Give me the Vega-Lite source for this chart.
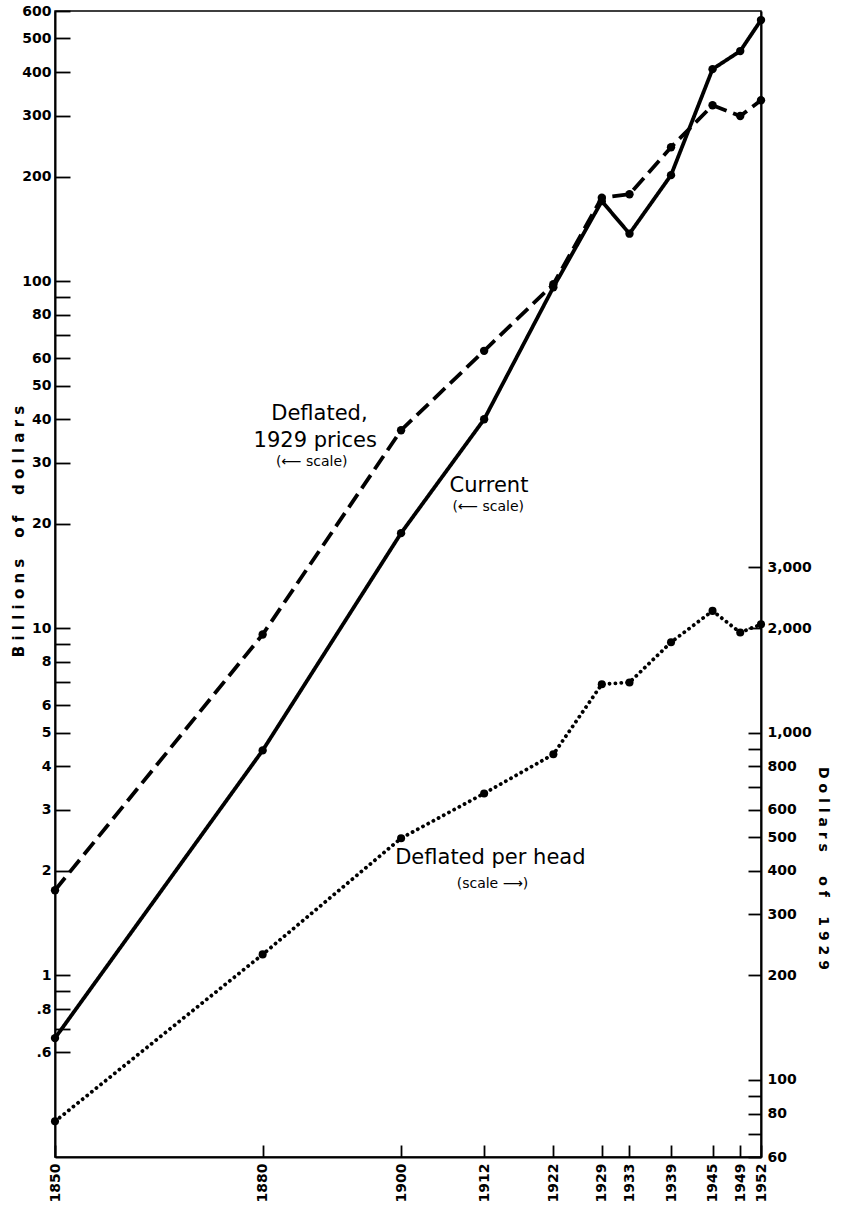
{
  "$schema": "https://vega.github.io/schema/vega-lite/v6.json",
  "width": 706,
  "height": 1146,
  "autosize": {"type": "none"},
  "padding": {"left": 55, "top": 11, "right": 82, "bottom": 48},
  "background": "white",
  "config": {
    "view": {"stroke": "black", "strokeWidth": 1.5},
    "axis": {
      "grid": false,
      "domainColor": "black",
      "domainWidth": 2,
      "tickColor": "black",
      "tickWidth": 1.8,
      "labelColor": "black",
      "labelFont": "DejaVu Sans",
      "labelFontWeight": "bold",
      "labelFontSize": 14,
      "titleColor": "black",
      "titleFont": "DejaVu Sans",
      "titleFontWeight": "bold",
      "titleFontSize": 15
    }
  },
  "datasets": {
    "left": [
      {"year": 1850, "value": 0.66, "series": "Current"},
      {"year": 1880, "value": 4.45, "series": "Current"},
      {"year": 1900, "value": 18.8, "series": "Current"},
      {"year": 1912, "value": 40, "series": "Current"},
      {"year": 1922, "value": 96, "series": "Current"},
      {"year": 1929, "value": 170, "series": "Current"},
      {"year": 1933, "value": 137, "series": "Current"},
      {"year": 1939, "value": 202, "series": "Current"},
      {"year": 1945, "value": 408, "series": "Current"},
      {"year": 1949, "value": 460, "series": "Current"},
      {"year": 1952, "value": 565, "series": "Current"},
      {"year": 1850, "value": 1.76, "series": "Deflated"},
      {"year": 1880, "value": 9.6, "series": "Deflated"},
      {"year": 1900, "value": 37.2, "series": "Deflated"},
      {"year": 1912, "value": 63, "series": "Deflated"},
      {"year": 1922, "value": 98, "series": "Deflated"},
      {"year": 1929, "value": 174, "series": "Deflated"},
      {"year": 1933, "value": 178, "series": "Deflated"},
      {"year": 1939, "value": 243, "series": "Deflated"},
      {"year": 1945, "value": 321, "series": "Deflated"},
      {"year": 1949, "value": 299, "series": "Deflated"},
      {"year": 1952, "value": 332, "series": "Deflated"}
    ],
    "perhead": [
      {"year": 1850, "value": 76},
      {"year": 1880, "value": 230},
      {"year": 1900, "value": 497},
      {"year": 1912, "value": 669},
      {"year": 1922, "value": 867},
      {"year": 1929, "value": 1380},
      {"year": 1933, "value": 1397},
      {"year": 1939, "value": 1823},
      {"year": 1945, "value": 2245},
      {"year": 1949, "value": 1945},
      {"year": 1952, "value": 2054}
    ],
    "leftLabels": [
      {"year": 1888.2, "value": 41.4, "text": "Deflated,", "role": "name"},
      {"year": 1887.6, "value": 34.6, "text": "1929 prices", "role": "name"},
      {"year": 1887.1, "value": 30.1, "text": "(⟵ scale)", "role": "note"},
      {"year": 1912.7, "value": 25.7, "text": "Current", "role": "name"},
      {"year": 1912.6, "value": 22.3, "text": "(⟵ scale)", "role": "note"}
    ],
    "rightLabels": [
      {"year": 1912.9, "value": 435, "text": "Deflated per head", "role": "name"},
      {"year": 1913.2, "value": 366, "text": "(scale ⟶)", "role": "note"}
    ]
  },
  "layer": [
    {
      "layer": [
        {
          "data": {"name": "left"},
          "mark": {"type": "line", "color": "black", "strokeWidth": 3.8, "strokeCap": "butt"},
          "encoding": {
            "x": {"field": "year", "type": "quantitative",
              "scale": {"domain": [1850, 1952], "nice": false, "zero": false},
              "axis": {
                "values": [1850, 1880, 1900, 1912, 1922, 1929, 1933, 1939, 1945, 1949, 1952],
                "format": "d", "labelAngle": -90, "tickSize": -12, "labelPadding": 18,
                "title": null, "labelFlush": false, "labelOverlap": false
              }},
            "y": {"field": "value", "type": "quantitative",
              "scale": {"type": "log", "domain": [0.3, 600], "nice": false},
              "axis": {
                "orient": "left",
                "values": [0.6, 0.7, 0.8, 0.9, 1, 2, 3, 4, 5, 6, 7, 8, 9, 10, 20, 30, 40, 50, 60, 70, 80, 90, 100, 200, 300, 400, 500, 600],
                "labelExpr": "indexof([0.7, 0.9, 7, 9, 70, 90], datum.value) >= 0 ? '' : (datum.value < 1 ? replace(format(datum.value, '.1f'), '0.', '.') : format(datum.value, 'd'))",
                "tickSize": -15, "labelPadding": 19, "labelOverlap": false, "labelFlush": false,
                "title": "B\u00a0i\u00a0l\u00a0l\u00a0i\u00a0o\u00a0n\u00a0s\u00a0\u00a0\u00a0\u00a0o\u00a0f\u00a0\u00a0\u00a0\u00a0d\u00a0o\u00a0l\u00a0l\u00a0a\u00a0r\u00a0s",
                "titleAngle": -90, "titleX": -37, "titleY": 520,
                "titleAlign": "center", "titleBaseline": "middle"
              }},
            "strokeDash": {"field": "series", "type": "nominal",
              "scale": {"domain": ["Current", "Deflated"], "range": [[1, 0], [16, 7]]},
              "legend": null}
          }
        },
        {
          "data": {"name": "left"},
          "mark": {"type": "point", "filled": true, "color": "black", "opacity": 1, "size": 70},
          "encoding": {
            "x": {"field": "year", "type": "quantitative"},
            "y": {"field": "value", "type": "quantitative"}
          }
        },
        {
          "data": {"name": "leftLabels"},
          "transform": [{"filter": "datum.role == 'name'"}],
          "mark": {"type": "text", "font": "DejaVu Sans", "fontSize": 21, "color": "black", "align": "center", "baseline": "middle"},
          "encoding": {
            "x": {"field": "year", "type": "quantitative"},
            "y": {"field": "value", "type": "quantitative"},
            "text": {"field": "text"}
          }
        },
        {
          "data": {"name": "leftLabels"},
          "transform": [{"filter": "datum.role == 'note'"}],
          "mark": {"type": "text", "font": "DejaVu Sans", "fontSize": 14, "color": "black", "align": "center", "baseline": "middle"},
          "encoding": {
            "x": {"field": "year", "type": "quantitative"},
            "y": {"field": "value", "type": "quantitative"},
            "text": {"field": "text"}
          }
        }
      ]
    },
    {
      "layer": [
        {
          "data": {"name": "perhead"},
          "mark": {"type": "line", "color": "black", "strokeWidth": 3.8, "strokeCap": "round", "strokeDash": [0.1, 5.8]},
          "encoding": {
            "x": {"field": "year", "type": "quantitative"},
            "y": {"field": "value", "type": "quantitative",
              "scale": {"type": "log", "domain": [60, 120000], "nice": false},
              "axis": {
                "orient": "right",
                "values": [60, 70, 80, 90, 100, 200, 300, 400, 500, 600, 700, 800, 900, 1000, 2000, 3000],
                "labelExpr": "indexof([70, 90, 700, 900], datum.value) >= 0 ? '' : format(datum.value, ',d')",
                "tickSize": -13, "labelPadding": 19, "labelOverlap": false, "labelFlush": false,
                "title": "D\u00a0o\u00a0l\u00a0l\u00a0a\u00a0r\u00a0s\u00a0\u00a0\u00a0\u00a0\u00a0o\u00a0f\u00a0\u00a0\u00a0\u00a01\u00a09\u00a02\u00a09",
                "titleFontSize": 14,
                "titleAngle": 90, "titleX": 61, "titleY": 857,
                "titleAlign": "center", "titleBaseline": "middle"
              }}
          }
        },
        {
          "data": {"name": "perhead"},
          "mark": {"type": "point", "filled": true, "color": "black", "opacity": 1, "size": 65},
          "encoding": {
            "x": {"field": "year", "type": "quantitative"},
            "y": {"field": "value", "type": "quantitative"}
          }
        },
        {
          "data": {"name": "rightLabels"},
          "transform": [{"filter": "datum.role == 'name'"}],
          "mark": {"type": "text", "font": "DejaVu Sans", "fontSize": 21, "color": "black", "align": "center", "baseline": "middle"},
          "encoding": {
            "x": {"field": "year", "type": "quantitative"},
            "y": {"field": "value", "type": "quantitative"},
            "text": {"field": "text"}
          }
        },
        {
          "data": {"name": "rightLabels"},
          "transform": [{"filter": "datum.role == 'note'"}],
          "mark": {"type": "text", "font": "DejaVu Sans", "fontSize": 14, "color": "black", "align": "center", "baseline": "middle"},
          "encoding": {
            "x": {"field": "year", "type": "quantitative"},
            "y": {"field": "value", "type": "quantitative"},
            "text": {"field": "text"}
          }
        }
      ]
    }
  ],
  "resolve": {"scale": {"y": "independent"}}
}
